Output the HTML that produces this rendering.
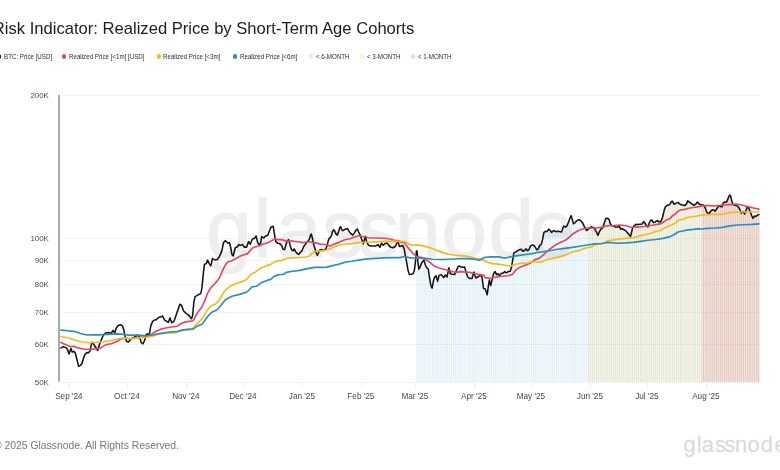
<!DOCTYPE html>
<html lang="en"><head><meta charset="utf-8"><title>Risk Indicator: Realized Price by Short-Term Age Cohorts</title>
<style>
html,body{margin:0;padding:0;background:#fff}
body{width:780px;height:470px;overflow:hidden;position:relative;font-family:"Liberation Sans",sans-serif}
.title{position:absolute;left:-7.2px;top:17.1px;font-size:16.6px;color:#1c1c1c;white-space:nowrap;line-height:24px}
.dot{position:absolute;top:54.4px;width:4.3px;height:4.3px;border-radius:50%}
.lt{position:absolute;top:51.8px;font-size:6.6px;line-height:10px;color:#2c2c2c;white-space:nowrap;transform:scaleX(0.939);transform-origin:0 50%}
.chart{position:absolute;left:0;top:0}
.chart text{font-family:"Liberation Sans",sans-serif}
.xl{font-size:8.2px;fill:#444956}
.yl{font-size:7.9px;fill:#444956}
.wm{font-size:81.5px;fill:#eeeeee;stroke:#eeeeee;stroke-width:0.9px}
.lg{font-size:22px;fill:#dbdbdb;stroke:#dbdbdb;stroke-width:0.3px}
.foot{position:absolute;left:-6px;top:438.6px;font-size:10.36px;line-height:14px;color:#777;white-space:nowrap}
</style></head><body>
<div class="title">Risk Indicator: Realized Price by Short-Term Age Cohorts</div>
<div class="legend"><span class="dot" style="left:-2.85px;background:#111111"></span><span class="lt" style="left:3.85px">BTC: Price [USD]</span><span class="dot" style="left:62.05px;background:#e9465d"></span><span class="lt" style="left:68.8px">Realized Price [&lt;1m] [USD]</span><span class="dot" style="left:156.55px;background:#f6b918"></span><span class="lt" style="left:163.3px">Realized Price [&lt;3m]</span><span class="dot" style="left:232.85px;background:#2490c0"></span><span class="lt" style="left:239.7px">Realized Price [&lt;6m]</span><span class="dot" style="left:308.85px;background:#dcebf5"></span><span class="lt" style="left:315.8px">&lt; 6-MONTH</span><span class="dot" style="left:360.05px;background:#fdf0cd"></span><span class="lt" style="left:366.7px">&lt; 3-MONTH</span><span class="dot" style="left:411.15px;background:#fad4da"></span><span class="lt" style="left:418.0px">&lt; 1-MONTH</span></div>
<svg class="chart" width="780" height="470" viewBox="0 0 780 470">
<line x1="61.5" x2="760.3" y1="95.5" y2="95.5" stroke="#f3f3f3" stroke-width="1"/>
<line x1="61.5" x2="760.3" y1="238.5" y2="238.5" stroke="#f3f3f3" stroke-width="1"/>
<line x1="61.5" x2="760.3" y1="260.5" y2="260.5" stroke="#f3f3f3" stroke-width="1"/>
<line x1="61.5" x2="760.3" y1="284.5" y2="284.5" stroke="#f3f3f3" stroke-width="1"/>
<line x1="61.5" x2="760.3" y1="312.5" y2="312.5" stroke="#f3f3f3" stroke-width="1"/>
<line x1="61.5" x2="760.3" y1="344.5" y2="344.5" stroke="#f3f3f3" stroke-width="1"/>
<line x1="61.5" x2="760.3" y1="382.5" y2="382.5" stroke="#f3f3f3" stroke-width="1"/>
<text class="wm" x="206.3 253.4 276.0 322.0 358.4 395.3 441.4 488.4 529.5" y="257">glassnode</text>
<path d="M416.50,382V251.6h1.3V382zM418.41,382V268.8h1.3V382zM420.31,382V264.6h1.3V382zM422.22,382V261.3h1.3V382zM424.13,382V262.9h1.3V382zM426.04,382V267.8h1.3V382zM427.94,382V271.3h1.3V382zM429.85,382V283.3h1.3V382zM431.76,382V286.3h1.3V382zM433.67,382V278.1h1.3V382zM435.57,382V276.3h1.3V382zM437.48,382V279.4h1.3V382zM439.39,382V275.0h1.3V382zM441.30,382V275.6h1.3V382zM443.20,382V277.1h1.3V382zM445.11,382V275.6h1.3V382zM447.02,382V273.9h1.3V382zM448.93,382V270.4h1.3V382zM450.83,382V274.0h1.3V382zM452.74,382V274.4h1.3V382zM454.65,382V273.1h1.3V382zM456.56,382V268.8h1.3V382zM458.46,382V266.2h1.3V382zM460.37,382V266.9h1.3V382zM462.28,382V267.3h1.3V382zM464.19,382V267.7h1.3V382zM466.10,382V274.1h1.3V382zM468.00,382V277.7h1.3V382zM469.91,382V278.5h1.3V382zM471.82,382V276.9h1.3V382zM473.73,382V273.4h1.3V382zM475.63,382V277.8h1.3V382zM477.54,382V276.7h1.3V382zM479.45,382V275.7h1.3V382zM481.36,382V277.6h1.3V382zM483.26,382V288.6h1.3V382zM485.17,382V290.7h1.3V382zM487.08,382V291.0h1.3V382zM488.99,382V280.8h1.3V382zM490.89,382V282.0h1.3V382zM492.80,382V274.2h1.3V382zM494.71,382V272.0h1.3V382zM496.62,382V274.1h1.3V382zM498.52,382V275.3h1.3V382zM500.43,382V273.6h1.3V382zM502.34,382V273.2h1.3V382zM504.25,382V271.7h1.3V382zM506.15,382V272.5h1.3V382zM508.06,382V271.5h1.3V382zM509.97,382V269.9h1.3V382zM511.88,382V261.2h1.3V382zM513.78,382V252.6h1.3V382zM515.69,382V251.6h1.3V382zM517.60,382V250.4h1.3V382zM519.50,382V249.5h1.3V382zM521.41,382V250.2h1.3V382zM523.32,382V250.8h1.3V382zM525.23,382V249.2h1.3V382zM527.13,382V250.8h1.3V382zM529.04,382V248.0h1.3V382zM530.95,382V245.3h1.3V382zM532.86,382V245.4h1.3V382zM534.76,382V247.6h1.3V382zM536.67,382V249.5h1.3V382zM538.58,382V246.7h1.3V382zM540.49,382V244.5h1.3V382zM542.39,382V237.0h1.3V382zM544.30,382V231.7h1.3V382zM546.21,382V231.6h1.3V382zM548.12,382V229.1h1.3V382zM550.02,382V231.2h1.3V382zM551.93,382V231.6h1.3V382zM553.84,382V231.0h1.3V382zM555.75,382V231.4h1.3V382zM557.65,382V231.4h1.3V382zM559.56,382V231.7h1.3V382zM561.47,382V230.3h1.3V382zM563.38,382V226.3h1.3V382zM565.28,382V226.7h1.3V382zM567.19,382V223.8h1.3V382zM569.10,382V218.7h1.3V382zM571.01,382V217.1h1.3V382zM572.91,382V223.8h1.3V382zM574.82,382V222.3h1.3V382zM576.73,382V220.4h1.3V382zM578.64,382V219.9h1.3V382zM580.54,382V221.3h1.3V382zM582.45,382V224.0h1.3V382zM584.36,382V227.9h1.3V382zM586.27,382V230.2h1.3V382zM588.17,382V228.6h1.3V382zM590.08,382V227.2h1.3V382zM591.99,382V227.2h1.3V382zM593.90,382V228.7h1.3V382zM595.81,382V232.2h1.3V382zM597.71,382V234.2h1.3V382zM599.62,382V230.0h1.3V382zM601.53,382V228.0h1.3V382zM603.43,382V223.6h1.3V382zM605.34,382V218.6h1.3V382zM607.25,382V218.4h1.3V382zM609.16,382V222.0h1.3V382zM611.07,382V225.7h1.3V382zM612.97,382V226.0h1.3V382zM614.88,382V227.2h1.3V382zM616.79,382V226.9h1.3V382zM618.69,382V226.8h1.3V382zM620.60,382V228.9h1.3V382zM622.51,382V229.2h1.3V382zM624.42,382V230.2h1.3V382zM626.33,382V232.1h1.3V382zM628.23,382V234.5h1.3V382zM630.14,382V235.8h1.3V382zM632.05,382V227.8h1.3V382zM633.95,382V225.3h1.3V382zM635.86,382V224.3h1.3V382zM637.77,382V224.5h1.3V382zM639.68,382V224.2h1.3V382zM641.59,382V223.6h1.3V382zM643.49,382V222.1h1.3V382zM645.40,382V224.7h1.3V382zM647.31,382V226.9h1.3V382zM649.22,382V221.7h1.3V382zM651.12,382V220.1h1.3V382zM653.03,382V222.4h1.3V382zM654.94,382V221.7h1.3V382zM656.85,382V220.8h1.3V382zM658.75,382V221.9h1.3V382zM660.66,382V220.4h1.3V382zM662.57,382V214.3h1.3V382zM664.48,382V207.7h1.3V382zM666.38,382V205.6h1.3V382zM668.29,382V204.8h1.3V382zM670.20,382V202.5h1.3V382zM672.11,382V201.8h1.3V382zM674.01,382V204.0h1.3V382zM675.92,382V202.9h1.3V382zM677.83,382V202.8h1.3V382zM679.74,382V204.4h1.3V382zM681.64,382V205.0h1.3V382zM683.55,382V205.5h1.3V382zM685.46,382V204.3h1.3V382zM687.37,382V201.1h1.3V382zM689.27,382V202.6h1.3V382zM691.18,382V204.0h1.3V382zM693.09,382V205.0h1.3V382zM695.00,382V204.1h1.3V382zM696.90,382V202.3h1.3V382zM698.81,382V204.4h1.3V382zM700.72,382V204.8h1.3V382zM702.62,382V204.9h1.3V382zM704.53,382V207.9h1.3V382zM706.44,382V212.4h1.3V382zM708.35,382V213.7h1.3V382zM710.25,382V211.0h1.3V382zM712.16,382V209.8h1.3V382zM714.07,382V210.9h1.3V382zM715.98,382V209.0h1.3V382zM717.88,382V205.8h1.3V382zM719.79,382V206.6h1.3V382zM721.70,382V206.0h1.3V382zM723.61,382V202.4h1.3V382zM725.51,382V202.3h1.3V382zM727.42,382V198.5h1.3V382zM729.33,382V195.4h1.3V382zM731.24,382V201.1h1.3V382zM733.14,382V204.8h1.3V382zM735.05,382V205.5h1.3V382zM736.96,382V206.3h1.3V382zM738.87,382V208.8h1.3V382zM740.77,382V213.1h1.3V382zM742.68,382V211.8h1.3V382zM744.59,382V212.4h1.3V382zM746.50,382V207.4h1.3V382zM748.40,382V209.0h1.3V382zM750.31,382V213.6h1.3V382zM752.22,382V218.1h1.3V382zM754.13,382V216.2h1.3V382zM756.03,382V215.7h1.3V382zM757.94,382V214.6h1.3V382z" fill="#2490c0" fill-opacity="0.13"/>
<path d="M588.17,382V228.6h1.3V382zM590.08,382V227.2h1.3V382zM591.99,382V227.2h1.3V382zM593.90,382V228.7h1.3V382zM595.80,382V232.2h1.3V382zM597.71,382V234.2h1.3V382zM599.62,382V230.0h1.3V382zM601.53,382V228.0h1.3V382zM603.43,382V223.6h1.3V382zM605.34,382V218.6h1.3V382zM607.25,382V218.4h1.3V382zM609.16,382V222.0h1.3V382zM611.06,382V225.7h1.3V382zM612.97,382V226.0h1.3V382zM614.88,382V227.2h1.3V382zM616.79,382V226.9h1.3V382zM618.69,382V226.8h1.3V382zM620.60,382V228.9h1.3V382zM622.51,382V229.2h1.3V382zM624.42,382V230.2h1.3V382zM626.32,382V232.1h1.3V382zM628.23,382V234.5h1.3V382zM630.14,382V235.8h1.3V382zM632.05,382V227.8h1.3V382zM633.95,382V225.3h1.3V382zM635.86,382V224.3h1.3V382zM637.77,382V224.5h1.3V382zM639.68,382V224.2h1.3V382zM641.58,382V223.6h1.3V382zM643.49,382V222.1h1.3V382zM645.40,382V224.7h1.3V382zM647.31,382V226.9h1.3V382zM649.21,382V221.7h1.3V382zM651.12,382V220.1h1.3V382zM653.03,382V222.4h1.3V382zM654.94,382V221.7h1.3V382zM656.84,382V220.8h1.3V382zM658.75,382V221.9h1.3V382zM660.66,382V220.4h1.3V382zM662.57,382V214.3h1.3V382zM664.47,382V207.7h1.3V382zM666.38,382V205.6h1.3V382zM668.29,382V204.8h1.3V382zM670.20,382V202.5h1.3V382zM672.10,382V201.8h1.3V382zM674.01,382V204.0h1.3V382zM675.92,382V202.9h1.3V382zM677.83,382V202.8h1.3V382zM679.73,382V204.4h1.3V382zM681.64,382V205.0h1.3V382zM683.55,382V205.5h1.3V382zM685.46,382V204.3h1.3V382zM687.37,382V201.1h1.3V382zM689.27,382V202.6h1.3V382zM691.18,382V204.0h1.3V382zM693.09,382V205.0h1.3V382zM694.99,382V204.1h1.3V382zM696.90,382V202.3h1.3V382zM698.81,382V204.4h1.3V382zM700.72,382V204.8h1.3V382zM702.62,382V204.9h1.3V382zM704.53,382V207.9h1.3V382zM706.44,382V212.4h1.3V382zM708.35,382V213.7h1.3V382zM710.25,382V211.0h1.3V382zM712.16,382V209.8h1.3V382zM714.07,382V210.9h1.3V382zM715.98,382V209.0h1.3V382zM717.88,382V205.8h1.3V382zM719.79,382V206.6h1.3V382zM721.70,382V206.0h1.3V382zM723.61,382V202.4h1.3V382zM725.51,382V202.3h1.3V382zM727.42,382V198.5h1.3V382zM729.33,382V195.4h1.3V382zM731.24,382V201.1h1.3V382zM733.14,382V204.8h1.3V382zM735.05,382V205.5h1.3V382zM736.96,382V206.3h1.3V382zM738.87,382V208.8h1.3V382zM740.77,382V213.1h1.3V382zM742.68,382V211.8h1.3V382zM744.59,382V212.4h1.3V382zM746.50,382V207.4h1.3V382zM748.40,382V209.0h1.3V382zM750.31,382V213.6h1.3V382zM752.22,382V218.1h1.3V382zM754.13,382V216.2h1.3V382zM756.03,382V215.7h1.3V382zM757.94,382V214.6h1.3V382z" fill="#f6b918" fill-opacity="0.16"/>
<path d="M702.62,382V204.9h1.4V382zM704.53,382V208.1h1.4V382zM706.44,382V212.5h1.4V382zM708.35,382V213.7h1.4V382zM710.25,382V211.0h1.4V382zM712.16,382V209.8h1.4V382zM714.07,382V210.9h1.4V382zM715.98,382V208.9h1.4V382zM717.88,382V205.7h1.4V382zM719.79,382V206.6h1.4V382zM721.70,382V205.8h1.4V382zM723.61,382V202.3h1.4V382zM725.51,382V202.3h1.4V382zM727.42,382V198.3h1.4V382zM729.33,382V195.5h1.4V382zM731.24,382V201.3h1.4V382zM733.14,382V204.9h1.4V382zM735.05,382V205.5h1.4V382zM736.96,382V206.3h1.4V382zM738.87,382V208.8h1.4V382zM740.77,382V213.0h1.4V382zM742.68,382V211.9h1.4V382zM744.59,382V212.2h1.4V382zM746.50,382V207.3h1.4V382zM748.40,382V209.2h1.4V382zM750.31,382V213.7h1.4V382zM752.22,382V218.2h1.4V382zM754.13,382V216.2h1.4V382zM756.03,382V215.6h1.4V382zM757.94,382V214.6h1.4V382z" fill="#e9465d" fill-opacity="0.19"/>
<rect x="58.1" y="95" width="1.9" height="286.6" fill="#a6a6a6"/>
<line x1="69.5" x2="69.5" y1="383" y2="389" stroke="#eeeeee" stroke-width="1"/>
<text class="xl" x="68.9" y="399.4" text-anchor="middle">Sep '24</text>
<line x1="127.5" x2="127.5" y1="383" y2="389" stroke="#eeeeee" stroke-width="1"/>
<text class="xl" x="126.9" y="399.4" text-anchor="middle">Oct '24</text>
<line x1="186.5" x2="186.5" y1="383" y2="389" stroke="#eeeeee" stroke-width="1"/>
<text class="xl" x="185.9" y="399.4" text-anchor="middle">Nov '24</text>
<line x1="243.5" x2="243.5" y1="383" y2="389" stroke="#eeeeee" stroke-width="1"/>
<text class="xl" x="242.9" y="399.4" text-anchor="middle">Dec '24</text>
<line x1="302.5" x2="302.5" y1="383" y2="389" stroke="#eeeeee" stroke-width="1"/>
<text class="xl" x="301.9" y="399.4" text-anchor="middle">Jan '25</text>
<line x1="361.5" x2="361.5" y1="383" y2="389" stroke="#eeeeee" stroke-width="1"/>
<text class="xl" x="360.9" y="399.4" text-anchor="middle">Feb '25</text>
<line x1="415.5" x2="415.5" y1="383" y2="389" stroke="#eeeeee" stroke-width="1"/>
<text class="xl" x="414.9" y="399.4" text-anchor="middle">Mar '25</text>
<line x1="474.5" x2="474.5" y1="383" y2="389" stroke="#eeeeee" stroke-width="1"/>
<text class="xl" x="473.9" y="399.4" text-anchor="middle">Apr '25</text>
<line x1="531.5" x2="531.5" y1="383" y2="389" stroke="#eeeeee" stroke-width="1"/>
<text class="xl" x="530.9" y="399.4" text-anchor="middle">May '25</text>
<line x1="590.5" x2="590.5" y1="383" y2="389" stroke="#eeeeee" stroke-width="1"/>
<text class="xl" x="589.9" y="399.4" text-anchor="middle">Jun '25</text>
<line x1="647.5" x2="647.5" y1="383" y2="389" stroke="#eeeeee" stroke-width="1"/>
<text class="xl" x="646.9" y="399.4" text-anchor="middle">Jul '25</text>
<line x1="706.5" x2="706.5" y1="383" y2="389" stroke="#eeeeee" stroke-width="1"/>
<text class="xl" x="705.9" y="399.4" text-anchor="middle">Aug '25</text>
<text class="yl" x="48.9" y="98.3" text-anchor="end">200K</text>
<text class="yl" x="48.9" y="241.3" text-anchor="end">100K</text>
<text class="yl" x="48.9" y="263.3" text-anchor="end">90K</text>
<text class="yl" x="48.9" y="287.3" text-anchor="end">80K</text>
<text class="yl" x="48.9" y="315.3" text-anchor="end">70K</text>
<text class="yl" x="48.9" y="347.3" text-anchor="end">60K</text>
<text class="yl" x="48.9" y="385.3" text-anchor="end">50K</text>
<path d="M61.0,347.9 L63.3,346.6 L66.5,347.9 L67.8,350.1 L69.0,353.9 L71.0,348.4 L72.2,352.0 L74.1,351.4 L75.4,353.3 L77.3,360.9 L78.6,366.4 L80.5,365.4 L82.0,363.5 L83.7,357.7 L85.0,354.3 L86.9,352.6 L88.4,352.9 L90.1,350.7 L91.8,342.4 L93.3,343.7 L95.8,347.5 L97.7,350.5 L99.7,343.7 L101.6,339.2 L103.5,334.8 L106.0,332.9 L108.6,332.5 L111.1,333.5 L113.0,330.3 L114.7,332.9 L116.2,328.4 L118.2,325.5 L120.3,324.7 L122.4,325.9 L123.9,330.3 L125.2,337.3 L126.5,341.2 L128.4,342.1 L130.0,340.3 L132.4,337.9 L134.8,337.1 L137.2,335.1 L139.6,337.1 L141.2,342.6 L143.1,343.8 L144.7,340.3 L146.0,334.7 L147.6,333.9 L149.2,335.1 L150.8,325.9 L152.4,321.9 L154.3,320.0 L156.3,319.8 L158.4,317.4 L160.7,317.1 L162.7,316.0 L164.3,319.8 L166.4,321.1 L168.3,322.4 L169.9,317.9 L171.8,322.7 L173.9,321.4 L176.0,315.5 L177.9,309.9 L179.8,304.3 L181.4,305.1 L183.5,310.7 L185.6,313.1 L187.8,314.4 L189.9,316.6 L191.5,318.7 L192.6,315.5 L193.9,301.9 L195.2,296.4 L197.1,295.6 L199.0,294.3 L200.7,293.6 L201.8,288.8 L203.3,273.9 L204.4,264.4 L206.1,263.7 L207.6,260.1 L209.1,263.3 L210.8,265.9 L212.5,258.6 L215.0,259.9 L217.6,259.4 L219.7,256.0 L221.8,250.9 L223.5,242.8 L225.2,240.6 L226.9,242.0 L227.8,243.1 L229.5,242.8 L230.7,247.5 L232.0,254.8 L233.3,256.0 L234.2,251.8 L235.4,247.5 L237.1,247.1 L238.8,244.6 L240.5,245.4 L242.4,244.6 L244.4,247.1 L246.5,247.1 L248.6,241.6 L250.3,244.3 L252.4,239.0 L254.2,238.6 L256.1,236.0 L257.6,242.4 L259.3,245.0 L260.5,243.3 L261.8,236.5 L263.7,238.0 L265.6,236.0 L267.8,235.2 L269.5,230.5 L271.2,226.9 L273.3,226.3 L274.1,232.2 L275.0,237.7 L276.0,241.8 L277.8,243.3 L279.7,243.6 L281.6,245.5 L283.1,249.3 L284.6,249.6 L286.1,244.1 L287.6,240.3 L288.8,239.6 L290.1,245.5 L291.6,250.0 L293.1,250.8 L294.1,249.0 L295.6,251.5 L297.1,253.4 L298.6,254.5 L300.5,252.2 L302.0,250.8 L303.5,247.0 L305.8,243.6 L308.0,241.1 L309.5,238.8 L310.5,235.1 L311.4,234.1 L312.5,238.8 L313.9,245.5 L315.4,250.0 L316.5,254.0 L317.4,255.2 L318.4,253.0 L319.5,250.0 L321.4,249.6 L323.6,250.5 L325.4,249.6 L326.6,247.0 L327.8,242.6 L328.9,238.8 L330.3,237.6 L331.4,235.9 L332.6,231.1 L333.8,229.9 L334.9,231.4 L336.1,234.1 L337.3,235.1 L338.5,232.1 L339.7,227.7 L340.6,226.6 L341.8,229.9 L343.0,230.6 L344.5,229.6 L347.6,228.6 L349.3,231.7 L351.0,233.7 L352.7,235.1 L354.4,232.9 L356.1,230.0 L357.3,229.0 L358.6,232.0 L360.3,235.4 L362.0,240.2 L363.4,243.9 L364.6,238.8 L365.4,236.3 L366.8,242.2 L368.5,245.3 L370.5,246.0 L373.1,246.0 L375.6,246.0 L378.2,244.8 L379.9,247.3 L381.6,243.1 L383.3,245.3 L385.0,243.6 L387.2,243.1 L388.9,245.6 L391.0,247.3 L393.0,247.7 L395.2,246.5 L396.9,243.1 L398.1,242.2 L399.5,246.5 L401.2,246.0 L402.9,245.6 L404.2,249.0 L405.4,255.8 L406.6,261.8 L408.0,270.3 L409.3,274.6 L411.4,274.2 L413.1,273.7 L414.4,270.3 L415.5,261.0 L416.5,250.7 L417.2,251.6 L417.9,262.7 L418.9,269.1 L420.2,266.9 L421.6,262.7 L424.0,260.1 L425.3,264.8 L426.6,267.7 L428.3,269.0 L429.5,277.5 L430.8,285.2 L432.1,288.2 L433.4,280.9 L434.6,277.1 L436.1,275.8 L437.6,281.4 L439.1,275.4 L441.0,274.6 L443.6,277.5 L445.3,275.0 L447.0,277.1 L448.0,272.4 L448.9,267.7 L450.4,273.7 L452.5,274.3 L454.6,274.6 L456.3,270.7 L458.0,266.9 L459.3,266.0 L461.4,267.1 L463.1,267.3 L464.7,267.1 L466.1,272.4 L467.8,277.1 L470.0,278.6 L472.1,278.4 L473.4,273.3 L474.0,272.0 L475.1,276.3 L476.1,278.0 L478.5,276.5 L480.6,275.4 L481.9,276.7 L482.7,282.6 L483.6,288.6 L485.1,288.8 L486.3,292.0 L487.2,294.8 L488.3,286.4 L489.4,280.0 L490.7,285.6 L492.0,280.0 L493.6,273.6 L495.2,271.6 L496.5,274.8 L497.9,273.6 L499.5,275.7 L501.1,273.6 L503.2,273.1 L504.8,271.6 L506.4,272.8 L508.3,271.6 L510.2,271.2 L511.5,267.3 L512.7,260.1 L513.9,252.9 L515.4,252.1 L517.5,250.8 L519.4,249.7 L521.3,249.2 L522.9,251.3 L524.5,250.5 L526.1,248.9 L527.7,250.8 L529.3,248.9 L530.6,245.7 L532.5,244.9 L534.1,245.7 L535.0,246.9 L536.8,249.9 L538.3,248.9 L539.8,245.4 L541.3,244.4 L542.5,239.9 L543.9,232.5 L545.4,231.3 L546.9,231.6 L548.7,229.1 L550.2,230.5 L551.7,232.5 L553.6,230.5 L555.6,231.6 L557.4,231.3 L559.6,231.6 L561.5,232.0 L562.6,229.1 L563.6,226.1 L565.5,227.1 L567.0,225.6 L568.5,222.3 L570.0,217.9 L571.2,215.6 L572.2,219.1 L573.4,223.8 L575.2,222.6 L577.0,220.6 L579.0,219.7 L580.9,220.9 L582.7,223.1 L584.5,226.8 L586.4,230.5 L587.9,229.5 L589.8,227.6 L591.6,226.8 L593.4,227.6 L594.9,229.1 L596.4,232.0 L597.9,235.5 L599.4,231.6 L600.9,229.1 L602.8,227.6 L604.3,223.1 L605.8,218.6 L607.7,218.2 L609.2,219.8 L610.2,223.5 L611.7,225.8 L613.7,226.1 L615.5,227.2 L617.2,226.9 L619.2,226.5 L620.7,229.0 L622.1,228.7 L623.6,229.5 L625.1,230.2 L626.6,231.7 L628.1,233.5 L629.6,235.4 L630.6,236.5 L631.5,232.5 L632.6,228.0 L634.1,225.8 L636.0,224.3 L637.8,224.6 L640.0,224.3 L642.0,224.0 L643.8,221.6 L645.2,223.5 L646.7,225.8 L647.9,226.9 L649.0,223.5 L650.5,220.5 L652.0,220.1 L653.4,222.5 L655.0,222.2 L657.1,220.5 L659.3,222.0 L661.0,221.4 L662.7,216.7 L664.4,209.4 L665.6,206.5 L667.8,205.2 L669.5,204.6 L671.2,202.0 L672.5,201.2 L674.1,204.3 L676.3,203.1 L678.0,202.4 L680.1,204.3 L682.2,204.9 L684.8,205.6 L686.5,203.9 L687.8,200.9 L689.5,202.2 L691.6,203.9 L694.1,205.2 L695.9,203.9 L697.4,202.0 L699.3,204.3 L701.4,204.8 L703.5,204.9 L704.8,206.9 L706.1,210.3 L707.3,212.8 L709.0,213.7 L710.7,211.2 L712.5,209.7 L714.1,210.3 L715.0,211.2 L717.1,208.3 L718.6,205.6 L720.1,206.5 L722.0,206.8 L723.5,202.6 L725.0,202.1 L726.5,202.3 L728.0,198.6 L729.4,195.2 L730.5,195.6 L731.6,200.1 L732.8,204.1 L734.6,205.3 L736.5,205.6 L738.4,206.8 L739.9,209.5 L741.4,213.1 L743.2,211.6 L744.7,214.0 L745.9,210.5 L747.4,206.8 L748.9,208.6 L750.4,212.0 L751.8,215.8 L753.0,218.4 L754.4,216.1 L755.9,216.5 L757.4,215.0 L758.9,214.6" fill="none" stroke="#141414" stroke-width="1.55" stroke-linejoin="round" stroke-linecap="round"/>
<path d="M61.0,342.4 L65.2,344.6 L70.3,346.6 L74.1,346.3 L78.0,347.9 L84.3,349.2 L90.7,349.4 L97.1,348.8 L100.9,347.9 L106.0,344.6 L111.1,343.7 L117.5,341.2 L121.3,338.6 L126.5,338.2 L130.0,339.0 L136.4,337.9 L144.4,336.8 L150.8,334.7 L155.6,331.5 L160.3,329.4 L166.7,327.8 L173.1,326.7 L177.1,326.2 L181.1,323.5 L185.9,321.9 L193.1,320.8 L195.5,316.3 L198.0,312.2 L201.2,308.0 L204.4,301.6 L207.6,293.1 L210.8,287.8 L215.0,283.5 L219.3,278.2 L222.5,270.7 L225.7,264.4 L227.8,262.0 L232.0,260.7 L236.3,258.2 L240.5,256.0 L243.9,254.8 L247.3,253.9 L249.9,250.9 L252.4,248.0 L255.8,246.7 L259.3,245.7 L262.7,244.3 L266.1,243.3 L269.5,242.0 L272.9,239.9 L275.0,239.0 L277.4,239.6 L281.9,239.6 L286.4,241.1 L292.4,241.1 L298.3,241.8 L302.8,242.6 L308.7,241.8 L314.7,242.6 L320.6,244.1 L326.6,244.8 L330.3,246.0 L334.1,244.1 L338.5,242.6 L343.0,240.6 L345.0,239.7 L350.1,238.8 L355.2,236.8 L358.6,235.8 L363.7,236.8 L370.5,238.0 L379.0,238.0 L387.6,238.5 L394.4,240.2 L399.5,240.9 L400.0,242.2 L404.5,242.7 L407.4,247.1 L411.9,252.3 L416.4,256.5 L422.4,257.6 L424.0,259.2 L427.4,260.5 L430.8,263.1 L434.2,266.0 L438.5,267.7 L442.7,269.0 L447.8,270.3 L452.9,271.7 L456.3,272.4 L460.6,271.6 L464.9,272.0 L470.0,272.4 L475.1,273.7 L480.2,274.6 L484.0,275.4 L485.1,277.6 L489.9,278.4 L495.5,277.3 L501.9,276.3 L508.3,275.7 L512.3,274.4 L516.2,269.6 L521.0,266.8 L525.8,264.9 L530.6,262.9 L535.0,259.6 L539.5,258.1 L543.2,255.1 L546.9,251.4 L551.4,248.0 L555.9,244.7 L560.3,242.5 L564.8,240.5 L568.5,238.0 L572.2,234.3 L576.0,232.0 L580.4,229.8 L584.9,228.3 L590.1,228.0 L596.1,228.0 L602.0,227.1 L608.0,225.8 L614.0,225.5 L619.9,225.0 L625.9,225.8 L631.8,227.5 L637.8,226.9 L643.8,226.5 L649.7,225.8 L655.0,224.8 L660.1,223.9 L663.5,222.2 L666.9,219.7 L670.3,218.4 L672.9,215.4 L675.4,214.1 L678.0,211.2 L680.5,210.0 L684.8,209.4 L689.0,208.3 L693.3,207.5 L697.5,206.9 L701.8,206.0 L706.1,205.6 L710.3,205.6 L715.0,206.0 L717.9,205.6 L723.8,205.0 L729.8,204.6 L735.8,204.1 L741.7,205.0 L747.7,206.5 L753.6,208.0 L758.9,209.1" fill="none" stroke="#e9465d" stroke-width="1.65" stroke-linejoin="round" stroke-linecap="round"/>
<path d="M61.0,336.7 L67.8,337.7 L74.1,339.9 L80.5,341.8 L88.2,342.8 L95.8,342.4 L103.5,341.8 L111.1,340.5 L117.5,339.0 L122.6,338.0 L129.0,338.2 L130.0,338.7 L138.0,337.9 L146.0,337.4 L152.4,336.3 L158.7,334.2 L166.7,333.1 L176.3,332.6 L181.1,330.7 L187.5,329.4 L193.1,328.3 L195.5,325.1 L198.0,322.9 L202.3,318.6 L206.5,311.2 L210.8,305.9 L216.1,303.7 L220.3,298.4 L224.6,291.0 L229.9,286.3 L236.3,283.5 L242.7,281.4 L246.9,279.3 L251.2,273.9 L255.4,272.2 L259.7,268.6 L266.1,265.9 L270.0,264.9 L273.0,262.7 L277.4,260.9 L281.9,260.4 L286.4,258.5 L292.4,257.9 L299.8,257.5 L305.8,257.0 L309.5,256.0 L313.2,252.2 L317.7,250.8 L323.6,250.8 L329.6,249.0 L335.6,246.3 L341.5,244.5 L345.0,244.3 L351.8,243.6 L358.6,242.6 L367.1,242.2 L375.6,241.9 L384.1,241.4 L394.4,241.4 L400.0,241.2 L405.2,241.6 L408.9,244.2 L413.4,245.2 L417.9,244.9 L423.8,246.1 L429.8,247.6 L435.8,250.1 L441.7,252.1 L447.7,254.1 L453.6,255.0 L459.6,255.6 L465.6,256.1 L470.0,256.9 L476.4,258.5 L482.0,259.3 L485.9,261.7 L492.3,263.6 L498.7,264.1 L505.1,265.2 L510.7,266.1 L514.6,264.5 L521.0,263.3 L527.4,262.9 L533.0,261.7 L535.0,261.8 L541.0,262.3 L546.9,259.6 L552.9,258.4 L558.8,256.9 L564.8,255.4 L569.3,253.3 L573.7,251.4 L578.2,250.9 L582.7,248.9 L587.1,247.7 L591.6,246.9 L594.6,244.7 L600.5,243.9 L605.0,242.5 L608.0,240.7 L614.0,239.9 L619.9,238.9 L625.9,238.4 L633.3,237.7 L639.3,235.9 L645.2,234.7 L651.2,233.2 L655.0,231.6 L660.1,230.7 L663.5,228.6 L667.8,226.5 L672.0,224.8 L675.4,223.1 L678.0,220.5 L683.1,219.2 L687.3,217.5 L691.6,216.7 L695.9,216.3 L701.0,215.2 L706.1,214.6 L710.3,214.6 L715.0,214.3 L722.4,214.3 L729.8,212.5 L737.2,212.0 L744.7,212.0 L752.1,212.0 L758.9,212.0" fill="none" stroke="#f6b918" stroke-width="1.65" stroke-linejoin="round" stroke-linecap="round"/>
<path d="M61.0,330.1 L67.8,330.7 L75.4,331.6 L80.5,333.5 L86.9,335.0 L93.3,334.8 L100.9,334.8 L108.6,334.4 L117.5,333.9 L123.9,334.4 L129.0,335.2 L130.0,335.1 L138.0,335.1 L146.0,335.8 L153.9,334.7 L161.9,333.1 L169.9,332.0 L177.1,331.5 L182.7,329.9 L193.1,329.1 L197.1,326.2 L202.3,323.9 L207.6,316.5 L211.8,312.2 L217.2,309.7 L221.4,304.8 L225.7,299.5 L232.0,296.3 L240.6,294.1 L246.9,292.0 L252.3,286.7 L256.5,286.3 L261.8,282.4 L268.2,279.9 L270.0,279.8 L274.5,276.1 L278.9,274.6 L283.4,274.3 L286.4,272.4 L292.4,271.3 L299.8,270.4 L307.2,268.6 L314.7,267.4 L322.1,267.4 L326.6,267.1 L332.6,265.6 L338.5,264.2 L344.5,262.4 L345.0,262.3 L351.8,261.3 L358.6,260.1 L367.1,258.9 L375.6,258.4 L384.1,257.9 L394.4,257.6 L400.0,257.6 L404.5,256.5 L408.9,257.6 L414.9,258.3 L422.4,258.0 L424.0,258.1 L432.5,259.2 L441.0,259.5 L449.5,259.2 L458.0,258.8 L466.6,258.6 L475.1,259.2 L479.3,260.1 L481.9,259.2 L484.0,257.5 L490.7,256.9 L498.7,256.9 L505.1,258.2 L511.5,256.6 L517.8,255.6 L525.8,254.5 L533.8,253.4 L535.0,252.9 L542.5,251.8 L549.9,250.7 L557.4,249.2 L564.8,248.4 L572.2,247.4 L579.7,246.2 L587.1,245.0 L594.6,243.9 L602.0,243.5 L608.0,242.4 L616.9,243.3 L625.9,242.9 L633.3,242.4 L640.8,241.4 L648.2,240.3 L655.7,239.5 L663.1,238.4 L669.1,236.9 L673.5,235.0 L678.0,232.0 L682.5,231.0 L688.0,229.9 L693.6,229.4 L698.7,228.6 L700.0,229.2 L707.5,228.4 L714.9,228.0 L722.4,227.4 L729.8,225.9 L737.2,225.0 L744.7,224.7 L752.1,224.4 L758.9,223.9" fill="none" stroke="#2490c0" stroke-width="1.65" stroke-linejoin="round" stroke-linecap="round"/>
<text class="lg" x="683.6 696.7 701.7 715.1 724.5 734.9 747.4 760.8 774.6" y="452.1">glassnode</text>
</svg>
<div class="foot">© 2025 Glassnode. All Rights Reserved.</div>
</body></html>
